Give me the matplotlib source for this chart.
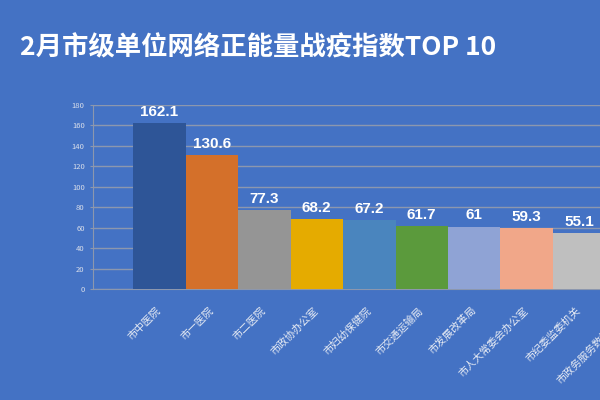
import matplotlib

matplotlib.use('Agg')
import matplotlib.pyplot as plt
import numpy as np

plt.rcParams['font.family'] = ['Noto Sans CJK SC', 'DejaVu Sans']

# data (10th bar is cut off at the right edge)
units = ['市中医院', '市一医院', '市二医院', '市政协办公室', '市妇幼保健院',
         '市交通运输局', '市发展改革局', '市人大常委会办公室', '市纪委监委机关',
         '市政务服务数据管理局']
scores = [162.1, 130.6, 77.3, 68.2, 67.2, 61.7, 61, 59.3, 55.1, 52.0]
value_text = ['162.1', '130.6', '77.3', '68.2', '67.2', '61.7', '61', '59.3', '55.1', '52']
colors = ['#2E5597', '#D4702A', '#959595', '#E5AB00', '#4A85BE',
          '#5B9A3C', '#8FA3D5', '#F1A789', '#BFBFBF', '#2E5597']
yticks = list(range(0, 181, 20))

bg = '#4472C4'
grid_c = '#8C97AE'
fig = plt.figure(figsize=(6, 4), dpi=100, facecolor=bg)
# axes runs past the right edge of the figure, like the cropped original
ax = fig.add_axes([93 / 600, 111 / 400, 605 / 600, 184 / 400], facecolor=bg)

x = np.arange(len(units))
ax.bar(x, scores, width=1.0, color=colors, zorder=3)
for xi, s, t in zip(x, scores, value_text):
    ax.annotate(t, (xi, s), xytext=(0, 3), textcoords='offset points',
                ha='center', va='bottom', color='white', fontsize=11,
                fontweight='bold', family=['Liberation Sans', 'DejaVu Sans'])

ax.set_xlim(-0.5 - 40 / 52.5, len(units) - 0.5 + 40 / 52.5)
ax.set_ylim(0, 180)
ax.set_yticks(yticks)
ax.grid(axis='y', color=grid_c, linewidth=1, zorder=0)
ax.set_xticks(x)
ax.set_xticklabels(units, rotation=45, ha='right', va='center',
                   rotation_mode='anchor', fontsize=7.5, color='#E8ECF4')
ax.tick_params(axis='x', length=0, pad=14)
ax.tick_params(axis='y', length=2, color=grid_c, labelsize=5.5,
               labelcolor='#D9DEEA', pad=4)
for side in ['top', 'right']:
    ax.spines[side].set_visible(False)
ax.spines['left'].set_color(grid_c)
ax.spines['bottom'].set_color(grid_c)

fig.text(20 / 600, 1 - 48 / 400, '2月市级单位网络正能量战疫指数TOP 10',
         color='white', fontsize=19, fontweight='bold', va='center', ha='left')

fig.savefig('out.png', dpi=100, facecolor=bg)
